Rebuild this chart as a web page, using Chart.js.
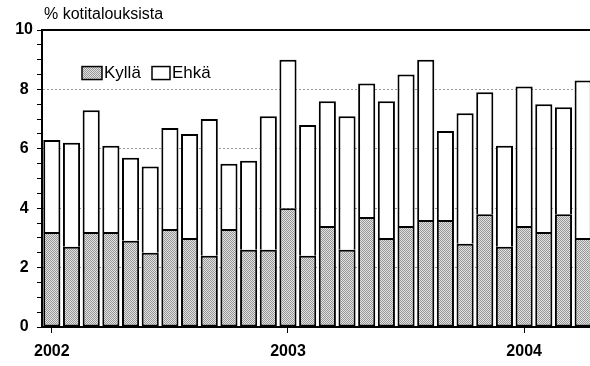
<!DOCTYPE html>
<html>
<head>
<meta charset="utf-8">
<script src="https://cdn.jsdelivr.net/npm/chart.js@4.4.1/dist/chart.umd.min.js"></script>
<style>
  html, body { margin: 0; padding: 0; background: #fff; overflow: hidden; }
  canvas { display: block; }
</style>
</head>
<body>
<canvas id="chartHouseholds" width="598" height="366"></canvas>
<script>
const months = [
    '2002-01', '2002-02', '2002-03', '2002-04', '2002-05', '2002-06',
    '2002-07', '2002-08', '2002-09', '2002-10', '2002-11', '2002-12',
    '2003-01', '2003-02', '2003-03', '2003-04', '2003-05', '2003-06',
    '2003-07', '2003-08', '2003-09', '2003-10', '2003-11', '2003-12',
    '2004-01', '2004-02', '2004-03', '2004-04'
];
const kylla = [3.2, 2.7, 3.2, 3.2, 2.9, 2.5, 3.3, 3.0, 2.4, 3.3, 2.6, 2.6,
    4.0, 2.4, 3.4, 2.6, 3.7, 3.0, 3.4, 3.6, 3.6, 2.8, 3.8, 2.7,
    3.4, 3.2, 3.8, 3.0];
const ehka = [3.1, 3.5, 4.1, 2.9, 2.8, 2.9, 3.4, 3.5, 4.6, 2.2, 3.0, 4.5,
    5.0, 4.4, 4.2, 4.5, 4.5, 4.6, 5.1, 5.4, 3.0, 4.4, 4.1, 3.4,
    4.7, 4.3, 3.6, 5.3];
const yearTicks = [0, 12, 24];
const gridValues = [2, 4, 6, 8];
const yTitle = '% kotitalouksista';
const legendNames = ['Kyllä', 'Ehkä'];

const FONT = '"Liberation Sans", Arial, Helvetica, sans-serif';

// dotted grey fill like the printed raster
function makePattern() {
    const c = document.createElement('canvas');
    c.width = 2; c.height = 2;
    const p = c.getContext('2d');
    p.fillStyle = '#e2e2e2';
    p.fillRect(0, 0, 2, 2);
    p.fillStyle = '#969696';
    p.fillRect(0, 0, 1, 1);
    p.fillRect(1, 1, 1, 1);
    return p.createPattern(c, 'repeat');
}
const dots = makePattern();

const extras = {
    id: 'extras',
    afterDraw(chart) {
        const ctx = chart.ctx;
        const area = chart.chartArea;
        ctx.save();
        // top frame line
        ctx.strokeStyle = '#000';
        ctx.lineWidth = 2;
        ctx.beginPath();
        ctx.moveTo(area.left, area.top);
        ctx.lineTo(area.right, area.top);
        ctx.stroke();

        // title above the axis
        ctx.fillStyle = '#000';
        ctx.font = '16px ' + FONT;
        ctx.textBaseline = 'middle';
        ctx.textAlign = 'left';
        ctx.fillText(yTitle, area.left + 2, 15);

        // legend inside plot
        const ly = chart.scales.y.getPixelForValue(8.5) - 2;
        let x = area.left + 40;
        ctx.font = '17px ' + FONT;
        ctx.lineWidth = 1.5;
        ctx.fillStyle = dots;
        ctx.fillRect(x, ly - 6, 20, 13);
        ctx.strokeRect(x, ly - 6, 20, 13);
        ctx.fillStyle = '#000';
        ctx.fillText(legendNames[0], x + 22, ly + 1);
        x += 70;
        ctx.fillStyle = '#fff';
        ctx.fillRect(x, ly - 6, 18, 13);
        ctx.strokeRect(x, ly - 6, 18, 13);
        ctx.fillStyle = '#000';
        ctx.fillText(legendNames[1], x + 20, ly + 1);
        ctx.restore();
    }
};

const ctx = document.getElementById('chartHouseholds').getContext('2d');

var dataKylla = {
    label: legendNames[0],
    data: kylla,
    backgroundColor: dots,
    borderColor: '#000',
    borderWidth: 2,
    borderSkipped: false,
    barPercentage: 0.87,
    categoryPercentage: 1
};

var dataEhka = {
    label: legendNames[1],
    data: ehka,
    backgroundColor: '#fff',
    borderColor: '#000',
    borderWidth: 2,
    borderSkipped: 'start',
    barPercentage: 0.87,
    categoryPercentage: 1
};

new Chart(ctx, {
    type: 'bar',
    data: { labels: months, datasets: [dataKylla, dataEhka] },
    plugins: [extras],
    options: {
        responsive: false,
        animation: false,
        layout: { padding: { left: 0, right: 5, top: 30, bottom: 0 } },
        plugins: { legend: { display: false }, tooltip: { enabled: false } },
        scales: {
            x: {
                stacked: true,
                afterBuildTicks: function (axis) {
                    axis.ticks = axis.ticks.filter(t => yearTicks.includes(t.value));
                },
                afterFit: function (axis) { axis.height = 39; },
                grid: {
                    offset: false,
                    drawOnChartArea: false,
                    tickLength: 6,
                    tickColor: '#000',
                    tickWidth: 1
                },
                border: { color: '#000', width: 2 },
                ticks: {
                    autoSkip: false,
                    maxRotation: 0,
                    padding: 9,
                    color: '#000',
                    font: { family: FONT, size: 16, weight: 'bold' },
                    callback: function (v) { return months[v].slice(0, 4); }
                }
            },
            y: {
                stacked: true,
                min: 0,
                max: 10,
                afterFit: function (axis) { axis.width = 42; },
                grid: {
                    color: function (c) {
                        return gridValues.includes(c.tick.value) ? '#9a9a9a' : 'rgba(0,0,0,0)';
                    },
                    lineWidth: 1,
                    tickLength: 5,
                    tickColor: '#000',
                    tickWidth: 1
                },
                border: { color: '#000', width: 2, dash: [2, 2] },
                ticks: {
                    stepSize: 0.5,
                    autoSkip: false,
                    crossAlign: 'center',
                    padding: 4,
                    color: '#000',
                    font: { family: FONT, size: 16, weight: 'bold' },
                    callback: function (v) { return (v % 2 === 0) ? String(v) : ''; }
                }
            }
        }
    }
});
</script>
</body>
</html>
